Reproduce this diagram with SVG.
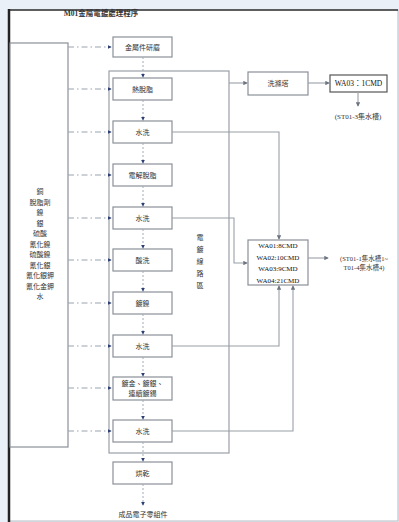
<svg xmlns="http://www.w3.org/2000/svg" width="399" height="522" viewBox="0 0 399 522">
<defs>
<marker id="ad" viewBox="0 0 6 6" refX="5" refY="3" markerWidth="4" markerHeight="4" orient="auto"><path d="M0,0 L6,3 L0,6 z" fill="#2b3f73"/></marker>
<marker id="ag" viewBox="0 0 6 6" refX="5" refY="3" markerWidth="4" markerHeight="4" orient="auto"><path d="M0,0 L6,3 L0,6 z" fill="#6d7480"/></marker>
<style>
.bx{fill:#fff;stroke:#8a8f96;stroke-width:1.2}
.t{font-family:"Liberation Serif","Noto Sans CJK TC",serif;font-size:7px;fill:#333;text-anchor:middle}
.dd{fill:none;stroke:#9aa3ae;stroke-width:1;stroke-dasharray:6 3 1.5 3;marker-end:url(#ad)}
.vd{fill:none;stroke:#a3acb8;stroke-width:1;stroke-dasharray:2 2;marker-end:url(#ad)}
.sl{fill:none;stroke:#9a9fa6;stroke-width:1.1}
.sa{fill:none;stroke:#9a9fa6;stroke-width:1.1;marker-end:url(#ag)}
</style>
</defs>
<rect x="0" y="0" width="399" height="522" fill="#e9f0f8"/>
<rect x="9" y="10" width="389" height="511" fill="#fff" stroke="#b8bcc2" stroke-width="1"/>
<line x1="9" y1="10" x2="398" y2="10" stroke="#333" stroke-width="1.5"/>
<line x1="9" y1="9" x2="9" y2="522" stroke="#222" stroke-width="2.5"/>
<text x="101" y="16" class="t" style="font-weight:bold;font-size:7.5px">M01金屬電鍍處理程序</text>

<g id="container"><rect x="109" y="71" width="120" height="382" fill="none" stroke="#9a9fa6" stroke-width="1.2"/>
<text class="t" x="200" y="240">電</text><text class="t" x="200" y="252">鍍</text><text class="t" x="200" y="264">線</text><text class="t" x="200" y="276">路</text><text class="t" x="200" y="288">區</text></g>

<g id="materials"><rect x="10" y="43" width="58" height="404" class="bx"/>
<text class="t" x="40" y="194">銅</text><text class="t" x="40" y="204.5">脫脂劑</text><text class="t" x="40" y="215">鎳</text><text class="t" x="40" y="225.5">銀</text><text class="t" x="40" y="236">硫酸</text><text class="t" x="40" y="246.5">氰化鎳</text><text class="t" x="40" y="257">硫酸鎳</text><text class="t" x="40" y="267.5">氰化銀</text><text class="t" x="40" y="278">氰化銀鉀</text><text class="t" x="40" y="288.5">氰化金鉀</text><text class="t" x="40" y="299">水</text></g>

<g id="n1"><rect x="113" y="37" width="59" height="20" class="bx"/><text class="t" x="142.5" y="49.5">金屬件研磨</text></g>
<g id="n2"><rect x="113" y="78" width="59" height="22" class="bx"/><text class="t" x="142.5" y="91.5">熱脫脂</text></g>
<g id="n3"><rect x="113" y="121" width="59" height="22" class="bx"/><text class="t" x="142.5" y="134.5">水洗</text></g>
<g id="n4"><rect x="113" y="164" width="59" height="22" class="bx"/><text class="t" x="142.5" y="177.5">電解脫脂</text></g>
<g id="n5"><rect x="113" y="207" width="59" height="22" class="bx"/><text class="t" x="142.5" y="220.5">水洗</text></g>
<g id="n6"><rect x="113" y="249" width="59" height="22" class="bx"/><text class="t" x="142.5" y="262.5">酸洗</text></g>
<g id="n7"><rect x="113" y="292" width="59" height="22" class="bx"/><text class="t" x="142.5" y="305.5">鍍鎳</text></g>
<g id="n8"><rect x="113" y="335" width="59" height="22" class="bx"/><text class="t" x="142.5" y="348.5">水洗</text></g>
<g id="n9"><rect x="113" y="377" width="59" height="23" class="bx"/><text class="t" x="142.5" y="386">鍍金、鍍銀、</text><text class="t" x="142.5" y="396">連續鍍錫</text></g>
<g id="n10"><rect x="113" y="420" width="59" height="22" class="bx"/><text class="t" x="142.5" y="433.5">水洗</text></g>
<g id="n11"><rect x="113" y="462" width="59" height="22" class="bx"/><text class="t" x="142.5" y="475.5">烘乾</text></g>
<g id="out1"><text class="t" x="143" y="517">成品電子零組件</text></g>

<g id="scrubber"><rect x="248" y="72" width="60" height="23" class="bx"/><text class="t" x="278" y="86">洗滌塔</text></g>
<g id="wa03"><rect x="330" y="75" width="57" height="17" class="bx" style="stroke:#555"/><text class="t" x="358.5" y="86" style="fill:#111;font-size:7.5px">WA03：1CMD</text></g>
<g id="st3"><text class="t" x="358" y="119">(ST01-3集水槽)</text></g>
<g id="wa"><rect x="248" y="240" width="60" height="45" class="bx"/>
<text class="t" x="278" y="248" style="fill:#111">WA01:8CMD</text><text class="t" x="278" y="259.5" style="fill:#111">WA02:10CMD</text><text class="t" x="278" y="271" style="fill:#111">WA03:9CMD</text><text class="t" x="278" y="282.5" style="fill:#111">WA04:21CMD</text></g>
<g id="st14"><text class="t" x="364" y="260.5" style="font-size:6.5px">(ST01-1集水槽1~</text><text class="t" x="364" y="270" style="font-size:6.5px">T01-4集水槽4)</text></g>

<g id="connectors">
<path class="dd" d="M68,47 H111"/>
<path class="dd" d="M68,89 H111"/>
<path class="dd" d="M68,132 H111"/>
<path class="dd" d="M68,175 H111"/>
<path class="dd" d="M68,218 H111"/>
<path class="dd" d="M68,260 H111"/>
<path class="dd" d="M68,303 H111"/>
<path class="dd" d="M68,346 H111"/>
<path class="dd" d="M68,388 H111"/>
<path class="dd" d="M68,431 H111"/>

<path class="vd" d="M143,57 V77"/>
<path class="vd" d="M143,100 V120"/>
<path class="vd" d="M143,143 V163"/>
<path class="vd" d="M143,186 V206"/>
<path class="vd" d="M143,229 V248"/>
<path class="vd" d="M143,271 V291"/>
<path class="vd" d="M143,314 V334"/>
<path class="vd" d="M143,357 V376"/>
<path class="vd" d="M143,400 V419"/>
<path class="vd" d="M143,442 V461"/>
<path class="vd" d="M143,484 V505"/>

<path class="sa" d="M229,83 H247"/>
<path class="sa" d="M308,83 H329"/>
<path class="sa" d="M358,92 V106"/>
<path class="sa" d="M172,132 H279 V239"/>
<path class="sa" d="M172,218 H234 V263 H247"/>
<path class="sa" d="M172,346 H279 V286"/>
<path class="sa" d="M172,431 H293 V286"/>
<path class="sa" d="M308,258 H328"/>
</g>
</svg>
